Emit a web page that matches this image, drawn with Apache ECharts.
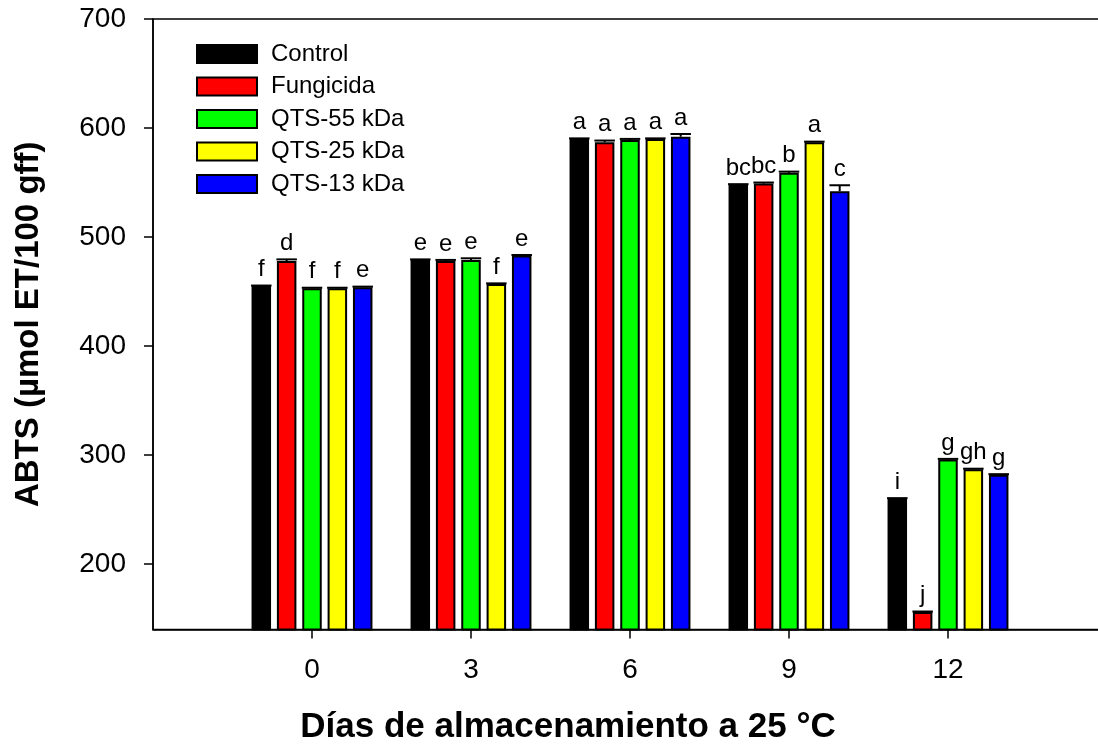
<!DOCTYPE html>
<html>
<head>
<meta charset="utf-8">
<script src="https://cdn.jsdelivr.net/npm/echarts@6/dist/echarts.min.js"></script>
<style>
  html, body { margin: 0; padding: 0; background: #fff; }
  #chart { width: 1098px; height: 744px; }
</style>
</head>
<body>
<div id="chart"></div>
<script>
// Storage days at 25 °C
const days = ['0', '3', '6', '9', '12'];
const treatments = ['Control', 'Fungicida', 'QTS-55 kDa', 'QTS-25 kDa', 'QTS-13 kDa'];
const colors = ['#000000', '#ff0000', '#00ff00', '#ffff00', '#0000ff'];

// ABTS mean values (µmol ET/100 gff)
const control   = [455, 479, 590, 548, 260];
const fungicida = [478, 478, 587, 549, 156];
const qts55     = [453, 479, 589, 559, 296];
const qts25     = [453, 457, 590, 587, 287];
const qts13     = [454, 483, 592, 542, 282];

// Standard errors
const errControl   = [0.5, 0.5, 0.5, 0.5, 0.5];
const errFungicida = [1.5, 1.0, 1.5, 1.0, 0.5];
const errQts55     = [0.5, 1.5, 1.0, 1.0, 0.5];
const errQts25     = [0.5, 0.5, 0.5, 0.5, 0.5];
const errQts13     = [0.5, 0.5, 2.5, 5.5, 0.5];

// Significance letters
const letControl   = ['f', 'e', 'a', 'bc', 'i'];
const letFungicida = ['d', 'e', 'a', 'bc', 'j'];
const letQts55     = ['f', 'e', 'a', 'b', 'g'];
const letQts25     = ['f', 'f', 'a', 'a', 'gh'];
const letQts13     = ['e', 'e', 'a', 'c', 'g'];

// Y axis ticks
const yTicks = [200, 300, 400, 500, 600, 700];

const values = [control, fungicida, qts55, qts25, qts13];
const errors = [errControl, errFungicida, errQts55, errQts25, errQts13];
const letters = [letControl, letFungicida, letQts55, letQts25, letQts13];

const FONT = "'Liberation Sans', Arial, Helvetica, sans-serif";
const BAR_W = 19.5;
const BAR_GAP = 0.30;
const PITCH = BAR_W * (1 + BAR_GAP);

// blank slots on both sides of the day categories
const axisCats = [''].concat(days, [' ']);

const barSeries = treatments.map((name, i) => ({
  name: name,
  type: 'bar',
  barWidth: BAR_W,
  barGap: (BAR_GAP * 100) + '%',
  itemStyle: { color: colors[i], borderColor: '#000', borderWidth: 2 },
  data: [null].concat(values[i], [null]),
  z: 2
}));

// error bars and significance letters, centred on each bar
const errSeries = treatments.map((name, i) => ({
  type: 'custom',
  name: name + ' SE',
  z: 5,
  silent: true,
  data: days.map((d, j) => [j + 1, values[i][j], errors[i][j]]),
  renderItem: function (params, api) {
    const x = api.value(0);
    const v = api.value(1);
    const e = api.value(2);
    const letter = letters[i][x - 1];
    const off = (i - 2) * PITCH;
    const pBase = api.coord([x, v]);
    const pTop = api.coord([x, v + e]);
    const cx = pBase[0] + off;
    const half = BAR_W / 2 + 0.5;
    return {
      type: 'group',
      children: [
        { type: 'line', shape: { x1: cx, y1: pBase[1], x2: cx, y2: pTop[1] },
          style: { stroke: '#000', lineWidth: 2 } },
        { type: 'line', shape: { x1: cx - half, y1: pTop[1], x2: cx + half, y2: pTop[1] },
          style: { stroke: '#000', lineWidth: 2 } },
        { type: 'text',
          style: { text: letter, x: cx, y: pTop[1] - 4, align: 'center', verticalAlign: 'bottom',
                   fill: '#000', font: '24px ' + FONT } }
      ]
    };
  }
}));

const chart = echarts.init(document.getElementById('chart'), null, { renderer: 'canvas' });

chart.setOption({
  backgroundColor: '#fff',
  animation: false,
  grid: {
    left: 153, top: 19, width: 954, height: 610.5,
    outerBoundsMode: 'none',
    containLabel: false,
    show: true, borderColor: '#000', borderWidth: 1.5, backgroundColor: 'transparent'
  },
  legend: {
    data: treatments,
    orient: 'vertical',
    left: 196, top: 42,
    padding: 0,
    icon: 'rect',
    itemWidth: 60, itemHeight: 18,
    itemGap: 8.5,
    textStyle: { fontFamily: FONT, fontSize: 24, color: '#000', lineHeight: 24, padding: [0, 0, 0, 9] }
  },
  xAxis: {
    type: 'category',
    data: axisCats,
    boundaryGap: false,
    axisLine: { lineStyle: { color: '#000', width: 1.5 } },
    axisTick: {
      length: 9, inside: false,
      lineStyle: { color: '#000', width: 1.5 },
      interval: (idx, val) => String(val).trim() !== ''
    },
    axisLabel: { fontFamily: FONT, fontSize: 28, color: '#000', margin: 27, interval: 0 },
    splitLine: { show: false }
  },
  yAxis: {
    type: 'value',
    min: 140, max: 700,
    name: 'ABTS (µmol ET/100 gff)',
    nameLocation: 'middle',
    nameGap: 108,
    nameTextStyle: { fontFamily: FONT, fontSize: 33, fontWeight: 'bold', color: '#000' },
    axisLine: { show: true, lineStyle: { color: '#000', width: 1.5 } },
    axisTick: { show: true, length: 9, lineStyle: { color: '#000', width: 1.5 }, customValues: yTicks },
    axisLabel: { fontFamily: FONT, fontSize: 28, color: '#000', margin: 27, customValues: yTicks },
    splitLine: { show: false }
  },
  graphic: [{
    type: 'text',
    style: {
      text: 'Días de almacenamiento a 25 °C',
      x: 568, y: 727,
      align: 'center', verticalAlign: 'middle',
      font: 'bold 35px ' + FONT, fill: '#000'
    }
  }],
  series: barSeries.concat(errSeries)
});
</script>
</body>
</html>
